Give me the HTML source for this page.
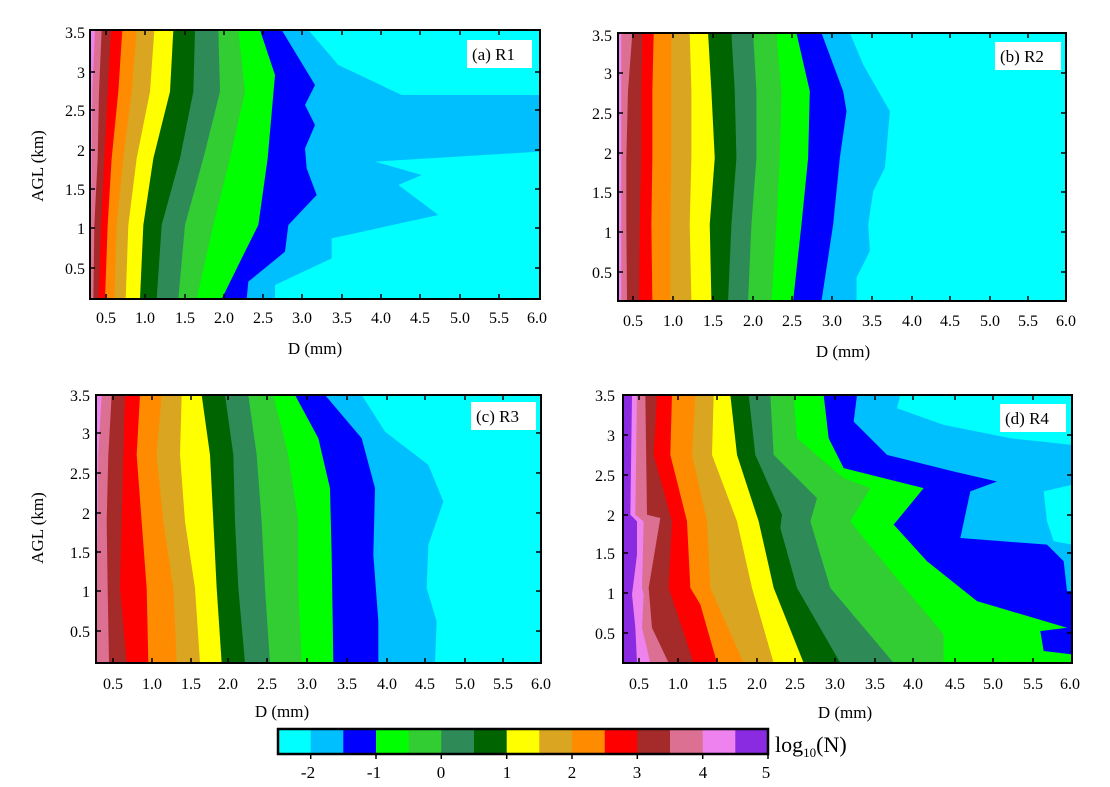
<!DOCTYPE html>
<html><head><meta charset="utf-8"><style>
html,body{margin:0;padding:0;background:#fff;}
svg text{font-family:"Liberation Serif",serif;fill:#000;}
</style></head><body>
<svg width="1110" height="782" viewBox="0 0 1110 782" xmlns="http://www.w3.org/2000/svg">
<!-- Panel a -->
<svg x="90" y="30" width="450" height="269" viewBox="15 15 1350 807" preserveAspectRatio="none">
<rect x="0" y="0" width="1400" height="900" fill="#00FFFF"/>
<polygon fill="#00BFFF" points="15,15 670,15 760,120 950,210 1365,210 1365,380 870,410 1010,450 940,480 1060,570 740,640 740,700 570,780 570,822 15,822"/>
<polygon fill="#0000FF" points="15,15 590,15 690,180 660,240 690,300 660,370 665,430 695,510 610,600 600,680 490,770 485,822 15,822"/>
<polygon fill="#00FF00" points="15,15 525,15 570,150 548,400 520,600 470,700 410,822 15,822"/>
<polygon fill="#32CD32" points="15,15 460,15 480,200 435,400 385,600 335,822 15,822"/>
<polygon fill="#2E8B57" points="15,15 400,15 405,200 355,400 300,600 280,822 15,822"/>
<polygon fill="#006400" points="15,15 330,15 325,200 285,400 230,600 215,822 15,822"/>
<polygon fill="#FFFF00" points="15,15 265,15 255,200 205,400 175,600 165,822 15,822"/>
<polygon fill="#DAA520" points="15,15 208,15 195,200 155,400 130,600 122,822 15,822"/>
<polygon fill="#FF8C00" points="15,15 155,15 140,200 115,400 95,600 88,822 15,822"/>
<polygon fill="#FF0000" points="15,15 112,15 100,200 80,400 68,600 60,822 15,822"/>
<polygon fill="#A52A2A" points="15,15 78,15 68,200 58,400 48,600 40,822 15,822"/>
<polygon fill="#DB7093" points="15,15 50,15 42,200 38,400 28,600 25,822 15,822"/>
<polygon fill="#EE82EE" points="15,15 30,15 22,200 20,400 18,600 15,822"/>
</svg>
<!-- Panel b -->
<svg x="618" y="33" width="448" height="268" viewBox="25 25 1343 805" preserveAspectRatio="none">
<rect x="0" y="0" width="1400" height="900" fill="#00FFFF"/>
<polygon fill="#00BFFF" points="25,25 720,25 760,120 840,260 825,430 790,500 775,600 780,680 740,760 740,830 25,830"/>
<polygon fill="#0000FF" points="25,25 635,25 700,200 710,260 690,400 670,600 635,830 25,830"/>
<polygon fill="#00FF00" points="25,25 560,25 600,200 595,400 575,600 550,830 25,830"/>
<polygon fill="#32CD32" points="25,25 500,25 515,200 510,400 500,600 485,830 25,830"/>
<polygon fill="#2E8B57" points="25,25 430,25 440,200 440,400 425,600 415,830 25,830"/>
<polygon fill="#006400" points="25,25 365,25 375,200 380,400 365,600 355,830 25,830"/>
<polygon fill="#FFFF00" points="25,25 295,25 305,200 315,400 300,600 305,830 25,830"/>
<polygon fill="#DAA520" points="25,25 240,25 245,200 245,400 240,600 245,830 25,830"/>
<polygon fill="#FF8C00" points="25,25 185,25 185,200 185,400 182,600 182,830 25,830"/>
<polygon fill="#FF0000" points="25,25 132,25 128,200 128,400 125,600 128,830 25,830"/>
<polygon fill="#A52A2A" points="25,25 98,25 95,200 95,400 90,600 88,830 25,830"/>
<polygon fill="#DB7093" points="25,25 68,25 55,200 50,400 50,600 52,830 25,830"/>
<polygon fill="#EE82EE" points="25,25 35,25 35,830 25,830"/>
</svg>
<!-- Panel c -->
<svg x="96" y="395" width="445" height="268" viewBox="33 20 1335 805" preserveAspectRatio="none">
<rect x="0" y="0" width="1400" height="900" fill="#00FFFF"/>
<polygon fill="#00BFFF" points="33,20 830,20 900,130 1030,230 1075,340 1030,470 1025,600 1055,700 1050,825 33,825"/>
<polygon fill="#0000FF" points="33,20 720,20 830,150 870,300 865,500 880,700 880,825 33,825"/>
<polygon fill="#00FF00" points="33,20 630,20 700,150 735,300 740,500 745,825 33,825"/>
<polygon fill="#32CD32" points="33,20 565,20 610,200 640,400 640,600 650,825 33,825"/>
<polygon fill="#2E8B57" points="33,20 490,20 515,200 530,400 540,600 555,825 33,825"/>
<polygon fill="#006400" points="33,20 420,20 445,200 450,400 460,600 480,825 33,825"/>
<polygon fill="#FFFF00" points="33,20 350,20 375,200 385,400 395,600 410,825 33,825"/>
<polygon fill="#DAA520" points="33,20 290,20 285,200 300,400 330,600 345,825 33,825"/>
<polygon fill="#FF8C00" points="33,20 230,20 215,200 235,400 265,600 275,825 33,825"/>
<polygon fill="#FF0000" points="33,20 165,20 155,200 170,400 185,600 190,825 33,825"/>
<polygon fill="#A52A2A" points="33,20 120,20 115,200 110,400 105,600 125,825 33,825"/>
<polygon fill="#DB7093" points="33,20 80,20 70,200 65,400 68,600 72,825 33,825"/>
<polygon fill="#EE82EE" points="33,20 50,20 40,200 38,400 35,600 33,825"/>
</svg>
<!-- Panel d -->
<svg x="623" y="395" width="449" height="268" viewBox="38 20 1347 806" preserveAspectRatio="none">
<rect x="0" y="0" width="1400" height="900" fill="#00FFFF"/>
<polygon fill="#00BFFF" points="38,20 870,20 860,60 1000,110 1200,150 1385,170 1385,826 38,826"/>
<polygon fill="#00FFFF" points="1385,290 1300,310 1310,400 1330,460 1385,470"/>
<polygon fill="#0000FF" points="38,20 740,20 730,100 830,200 1030,250 1160,280 1080,310 1050,450 1310,470 1360,520 1370,610 1385,610 1385,826 38,826"/>
<polygon fill="#00FF00" points="38,20 640,20 655,150 700,240 940,300 850,410 950,520 1100,640 1370,720 1290,730 1300,790 1385,800 1385,826 38,826"/>
<polygon fill="#32CD32" points="38,20 550,20 560,150 700,270 780,300 720,400 850,560 1000,740 1000,826 38,826"/>
<polygon fill="#2E8B57" points="38,20 480,20 490,200 620,330 600,400 660,600 850,826 38,826"/>
<polygon fill="#006400" points="38,20 415,20 435,200 515,380 510,420 560,600 690,826 38,826"/>
<polygon fill="#FFFF00" points="38,20 360,20 380,200 445,400 490,600 580,826 38,826"/>
<polygon fill="#DAA520" points="38,20 310,20 305,200 380,400 425,600 490,826 38,826"/>
<polygon fill="#FF8C00" points="38,20 255,20 245,200 290,400 300,600 400,826 38,826"/>
<polygon fill="#FF0000" points="38,20 185,20 180,200 230,400 240,600 270,650 320,826 38,826"/>
<polygon fill="#A52A2A" points="38,20 140,20 130,200 185,400 175,600 250,826 38,826"/>
<polygon fill="#DB7093" points="38,20 105,20 110,380 150,390 115,600 125,720 175,826 38,826"/>
<polygon fill="#EE82EE" points="38,20 80,20 75,380 100,400 95,600 100,620 95,720 120,826 38,826"/>
<polygon fill="#8A2BE2" points="38,20 65,20 60,380 80,400 80,500 65,620 75,720 80,826 38,826"/>
</svg>

<!-- Frames -->
<g fill="none" stroke="#000" stroke-width="2">
<rect x="90" y="30" width="450" height="269"/>
<rect x="618" y="33" width="448" height="268"/>
<rect x="96" y="395" width="445" height="268"/>
<rect x="623" y="395" width="449" height="268"/>
</g>
<!-- Ticks -->
<g stroke="#000" stroke-width="1.5">
<path d="M106,299v-5M106,30v5M145,299v-5M145,30v5M185,299v-5M185,30v5M224,299v-5M224,30v5M263,299v-5M263,30v5M302,299v-5M302,30v5M342,299v-5M342,30v5M381,299v-5M381,30v5M420,299v-5M420,30v5M460,299v-5M460,30v5M499,299v-5M499,30v5
M90,72h5M540,72h-5M90,110h5M540,110h-5M90,150h5M540,150h-5M90,189h5M540,189h-5M90,228h5M540,228h-5M90,268h5M540,268h-5"/>
<path d="M633,301v-5M633,33v5M673,301v-5M673,33v5M713,301v-5M713,33v5M753,301v-5M753,33v5M792,301v-5M792,33v5M832,301v-5M832,33v5M872,301v-5M872,33v5M912,301v-5M912,33v5M950,301v-5M950,33v5M990,301v-5M990,33v5M1028,301v-5M1028,33v5
M618,73h5M1066,73h-5M618,113h5M1066,113h-5M618,153h5M1066,153h-5M618,192h5M1066,192h-5M618,232h5M1066,232h-5M618,272h5M1066,272h-5"/>
<path d="M113,663v-5M113,395v5M152,663v-5M152,395v5M191,663v-5M191,395v5M228,663v-5M228,395v5M267,663v-5M267,395v5M307,663v-5M307,395v5M347,663v-5M347,395v5M387,663v-5M387,395v5M425,663v-5M425,395v5M465,663v-5M465,395v5M503,663v-5M503,395v5
M96,433h5M541,433h-5M96,473h5M541,473h-5M96,513h5M541,513h-5M96,552h5M541,552h-5M96,591h5M541,591h-5M96,631h5M541,631h-5"/>
<path d="M639,663v-5M639,395v5M678,663v-5M678,395v5M717,663v-5M717,395v5M757,663v-5M757,395v5M795,663v-5M795,395v5M835,663v-5M835,395v5M875,663v-5M875,395v5M913,663v-5M913,395v5M955,663v-5M955,395v5M993,663v-5M993,395v5M1033,663v-5M1033,395v5
M623,435h5M1072,435h-5M623,475h5M1072,475h-5M623,515h5M1072,515h-5M623,553h5M1072,553h-5M623,593h5M1072,593h-5M623,633h5M1072,633h-5"/>
</g>
<!-- Panel labels -->
<g font-size="17">
<rect x="467" y="40" width="65" height="28" fill="#fff"/><text x="472" y="60">(a) R1</text>
<rect x="995" y="42" width="66" height="28" fill="#fff"/><text x="1000" y="62">(b) R2</text>
<rect x="471" y="402" width="65" height="28" fill="#fff"/><text x="476" y="422">(c) R3</text>
<rect x="1000" y="404" width="66" height="28" fill="#fff"/><text x="1005" y="424">(d) R4</text>
</g>
<!-- Tick labels -->
<g font-size="16" text-anchor="end">
<text x="85" y="38">3.5</text><text x="85" y="78">3</text><text x="85" y="116">2.5</text><text x="85" y="156">2</text><text x="85" y="195">1.5</text><text x="85" y="234">1</text><text x="85" y="274">0.5</text>
<text x="612" y="41">3.5</text><text x="612" y="79">3</text><text x="612" y="119">2.5</text><text x="612" y="159">2</text><text x="612" y="198">1.5</text><text x="612" y="238">1</text><text x="612" y="278">0.5</text>
<text x="90" y="401">3.5</text><text x="90" y="439">3</text><text x="90" y="479">2.5</text><text x="90" y="519">2</text><text x="90" y="558">1.5</text><text x="90" y="597">1</text><text x="90" y="637">0.5</text>
<text x="615" y="401">3.5</text><text x="615" y="441">3</text><text x="615" y="481">2.5</text><text x="615" y="521">2</text><text x="615" y="559">1.5</text><text x="615" y="599">1</text><text x="615" y="639">0.5</text>
</g>
<g font-size="16" text-anchor="middle">
<text x="106" y="323">0.5</text><text x="145" y="323">1.0</text><text x="185" y="323">1.5</text><text x="224" y="323">2.0</text><text x="263" y="323">2.5</text><text x="302" y="323">3.0</text><text x="342" y="323">3.5</text><text x="381" y="323">4.0</text><text x="420" y="323">4.5</text><text x="460" y="323">5.0</text><text x="499" y="323">5.5</text><text x="537" y="323">6.0</text>
<text x="633" y="326">0.5</text><text x="673" y="326">1.0</text><text x="713" y="326">1.5</text><text x="753" y="326">2.0</text><text x="792" y="326">2.5</text><text x="832" y="326">3.0</text><text x="872" y="326">3.5</text><text x="912" y="326">4.0</text><text x="950" y="326">4.5</text><text x="990" y="326">5.0</text><text x="1028" y="326">5.5</text><text x="1066" y="326">6.0</text>
<text x="113" y="689">0.5</text><text x="152" y="689">1.0</text><text x="191" y="689">1.5</text><text x="228" y="689">2.0</text><text x="267" y="689">2.5</text><text x="307" y="689">3.0</text><text x="347" y="689">3.5</text><text x="387" y="689">4.0</text><text x="425" y="689">4.5</text><text x="465" y="689">5.0</text><text x="503" y="689">5.5</text><text x="541" y="689">6.0</text>
<text x="639" y="689">0.5</text><text x="678" y="689">1.0</text><text x="717" y="689">1.5</text><text x="757" y="689">2.0</text><text x="795" y="689">2.5</text><text x="835" y="689">3.0</text><text x="875" y="689">3.5</text><text x="913" y="689">4.0</text><text x="955" y="689">4.5</text><text x="993" y="689">5.0</text><text x="1033" y="689">5.5</text><text x="1070" y="689">6.0</text>
</g>
<g font-size="17" text-anchor="middle">
<text x="315" y="354">D (mm)</text>
<text x="843" y="357">D (mm)</text>
<text x="282" y="717">D (mm)</text>
<text x="845" y="718">D (mm)</text>
<text transform="translate(43,166) rotate(-90)">AGL (km)</text>
<text transform="translate(43,528) rotate(-90)">AGL (km)</text>
</g>
<!-- Colorbar -->
<g>
<rect x="278" y="729" width="33" height="25" fill="#00FFFF"/>
<rect x="310.7" y="729" width="33" height="25" fill="#00BFFF"/>
<rect x="343.3" y="729" width="33" height="25" fill="#0000FF"/>
<rect x="376" y="729" width="33" height="25" fill="#00FF00"/>
<rect x="408.7" y="729" width="33" height="25" fill="#32CD32"/>
<rect x="441.3" y="729" width="33" height="25" fill="#2E8B57"/>
<rect x="474" y="729" width="33" height="25" fill="#006400"/>
<rect x="506.7" y="729" width="33" height="25" fill="#FFFF00"/>
<rect x="539.3" y="729" width="33" height="25" fill="#DAA520"/>
<rect x="572" y="729" width="33" height="25" fill="#FF8C00"/>
<rect x="604.7" y="729" width="33" height="25" fill="#FF0000"/>
<rect x="637.3" y="729" width="33" height="25" fill="#A52A2A"/>
<rect x="670" y="729" width="33" height="25" fill="#DB7093"/>
<rect x="702.7" y="729" width="33" height="25" fill="#EE82EE"/>
<rect x="735.3" y="729" width="32.7" height="25" fill="#8A2BE2"/>
<rect x="278" y="729" width="490" height="25" fill="none" stroke="#000" stroke-width="2.5"/>
<path stroke="#000" stroke-width="1.5" d="M310.7,754v5M376,754v5M441.3,754v5M506.7,754v5M572,754v5M637.3,754v5M702.7,754v5M768,754v5"/>
</g>
<g font-size="17" text-anchor="middle">
<text x="308" y="778">-2</text><text x="374" y="778">-1</text><text x="441" y="778">0</text><text x="507" y="778">1</text><text x="572" y="778">2</text><text x="637" y="778">3</text><text x="703" y="778">4</text><text x="766" y="778">5</text>
</g>
<text x="775" y="752" font-size="22">log<tspan font-size="13" dy="5">10</tspan><tspan dy="-5">(N)</tspan></text>
</svg>
</body></html>
